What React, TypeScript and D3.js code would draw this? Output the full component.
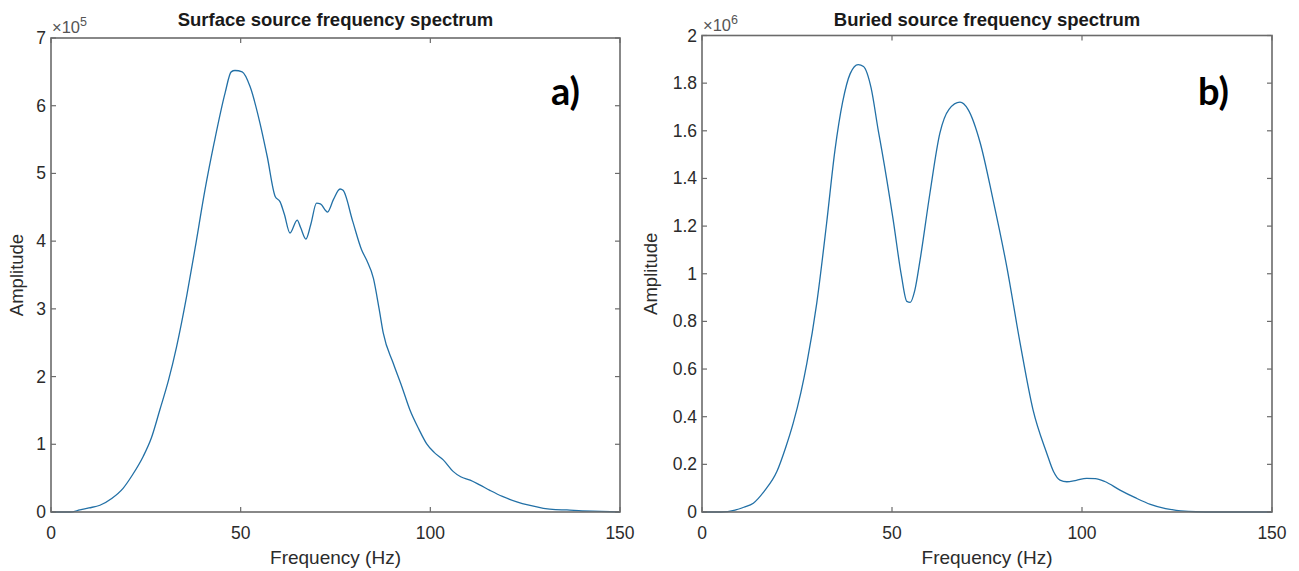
import React from "react";
import * as d3 from "d3";

// ---- data (x in Hz, amplitude in units of the axis exponent) ----
const surfaceFreq = [0, 5, 7.6, 10, 12.9, 16, 19, 21.5, 24.3, 26.5, 28.7, 31, 33.1, 35.8, 38, 40.6, 43, 45.9, 47.5, 48.5, 50.4, 52.5, 55.1, 57, 59.1, 60.4, 61.5, 63, 64.9, 65.8, 67.2, 68.5, 70, 71, 72.9, 74.5, 76.2, 77, 79.5, 81.9, 83.2, 85, 86.5, 87.6, 90.2, 92.5, 94.6, 97, 99, 101, 103.4, 106, 108, 110.5, 113, 115.7, 119, 122.8, 126, 129.8, 133, 136, 140, 145, 150];
const surfaceAmp = [0, 0, 0.03, 0.06, 0.1, 0.2, 0.35, 0.55, 0.82, 1.1, 1.51, 1.95, 2.44, 3.2, 3.9, 4.76, 5.45, 6.19, 6.5, 6.52, 6.5, 6.28, 5.74, 5.25, 4.66, 4.58, 4.4, 4.12, 4.31, 4.2, 4.03, 4.25, 4.56, 4.55, 4.43, 4.62, 4.77, 4.75, 4.3, 3.87, 3.72, 3.45, 3.0, 2.64, 2.2, 1.85, 1.51, 1.22, 1.01, 0.88, 0.77, 0.6, 0.52, 0.47, 0.4, 0.32, 0.23, 0.15, 0.1, 0.055, 0.035, 0.03, 0.015, 0.01, 0];

const buriedFreq = [0, 5, 8.7, 11, 13.5, 16.5, 19.7, 22, 24, 26, 27.6, 30.2, 32.8, 35, 37, 39, 41.1, 42.5, 44.5, 46.4, 47.3, 50.3, 52.5, 53.9, 54.8, 56, 57.4, 60, 62.6, 65, 67.9, 70, 73.2, 76.6, 80.2, 83.7, 87.1, 90.7, 92.5, 94.2, 96, 98.5, 101.2, 103.5, 106, 110, 114, 118, 122, 126, 130, 135, 150];
const buriedAmp = [0, 0, 0.008, 0.02, 0.037, 0.09, 0.17, 0.27, 0.373, 0.5, 0.625, 0.877, 1.213, 1.52, 1.72, 1.84, 1.878, 1.87, 1.78, 1.6, 1.52, 1.227, 0.99, 0.884, 0.88, 0.93, 1.059, 1.34, 1.59, 1.69, 1.72, 1.69, 1.55, 1.31, 1.03, 0.71, 0.43, 0.248, 0.17, 0.134, 0.127, 0.133, 0.141, 0.14, 0.128, 0.092, 0.06, 0.032, 0.014, 0.005, 0.001, 0, 0];

const xTicks = [0, 50, 100, 150];
const surfaceYTicks = [0, 1, 2, 3, 4, 5, 6, 7];
const buriedYTicks = [0, 0.2, 0.4, 0.6, 0.8, 1, 1.2, 1.4, 1.6, 1.8, 2];

const AXIS = "#6b6b6b";
const TEXT = "#2b2b2b";
const LINE = "#2270a6";
const FONT = "'Liberation Sans', Arial, Helvetica, sans-serif";

type PanelProps = {
  left: number; right: number; top: number; bottom: number;
  freq: number[]; amp: number[]; yMax: number; yTicks: number[];
  exponent: string; title: string; tag: string; tagX: number; yLabelOffset: number;
};

function Panel(p: PanelProps) {
  const x = d3.scaleLinear().domain([0, 150]).range([p.left, p.right]);
  const y = d3.scaleLinear().domain([0, p.yMax]).range([p.bottom, p.top]);
  const pts: [number, number][] = p.freq.map((f, i) => [f, p.amp[i]]);
  const line = d3.line<[number, number]>()
    .x(d => x(d[0]))
    .y(d => y(d[1]))
    .curve(d3.curveMonotoneX);
  const tl = 5;
  const fmt = (v: number) => String(+v.toFixed(1));
  const midX = (p.left + p.right) / 2;
  const midY = (p.top + p.bottom) / 2;
  return (
    <g>
      <path d={line(pts) || ""} fill="none" stroke={LINE} strokeWidth={1.3} />
      <rect x={p.left} y={p.top} width={p.right - p.left} height={p.bottom - p.top}
        fill="none" stroke={AXIS} strokeWidth={1.6} />
      {xTicks.map(t => (
        <g key={"x" + t}>
          <line x1={x(t)} x2={x(t)} y1={p.bottom} y2={p.bottom - tl} stroke={AXIS} strokeWidth={1.2} />
          <line x1={x(t)} x2={x(t)} y1={p.top} y2={p.top + tl} stroke={AXIS} strokeWidth={1.2} />
          <text x={x(t)} y={p.bottom + 27} textAnchor="middle" fontSize={17.5} fill={TEXT} fontFamily={FONT}>{t}</text>
        </g>
      ))}
      {p.yTicks.map(t => (
        <g key={"y" + t}>
          <line x1={p.left} x2={p.left + tl} y1={y(t)} y2={y(t)} stroke={AXIS} strokeWidth={1.2} />
          <line x1={p.right} x2={p.right - tl} y1={y(t)} y2={y(t)} stroke={AXIS} strokeWidth={1.2} />
          <text x={p.left - 5} y={y(t) + 6} textAnchor="end" fontSize={17.5} fill={TEXT} fontFamily={FONT}>{fmt(t)}</text>
        </g>
      ))}
      <text x={p.left + 1} y={p.top - 5} fontSize={16.5} fill="#555" fontFamily={FONT}>
        ×10<tspan dy={-7} fontSize={12.5}>{p.exponent}</tspan>
      </text>
      <text x={midX} y={26} textAnchor="middle" fontSize={18.5} fontWeight="bold" fill="#1a1a1a" fontFamily={FONT}>{p.title}</text>
      <text x={midX} y={p.bottom + 52} textAnchor="middle" fontSize={19} fill={TEXT} fontFamily={FONT}>Frequency (Hz)</text>
      <text transform={`translate(${p.left - p.yLabelOffset},${midY}) rotate(-90)`} textAnchor="middle" fontSize={18.5} fill={TEXT} fontFamily={FONT}>Amplitude</text>
      <text x={p.tagX} y={105} fontSize={38} fontWeight="bold" fill="#000" fontFamily="Lato, 'Open Sans', sans-serif">{p.tag}</text>
    </g>
  );
}

export default function App() {
  return (
    <svg width={1299} height={571} style={{ position: "absolute", left: 0, top: 0, background: "#fff" }}>
      <rect x={0} y={0} width={1299} height={571} fill="#fff" />
      <Panel left={51} right={620} top={38} bottom={512} freq={surfaceFreq} amp={surfaceAmp}
        yMax={7} yTicks={surfaceYTicks} exponent="5" title="Surface source frequency spectrum" tag="a)" tagX={551} yLabelOffset={28} />
      <Panel left={702} right={1272} top={35.5} bottom={512} freq={buriedFreq} amp={buriedAmp}
        yMax={2} yTicks={buriedYTicks} exponent="6" title="Buried source frequency spectrum" tag="b)" tagX={1198} yLabelOffset={45} />
    </svg>
  );
}
